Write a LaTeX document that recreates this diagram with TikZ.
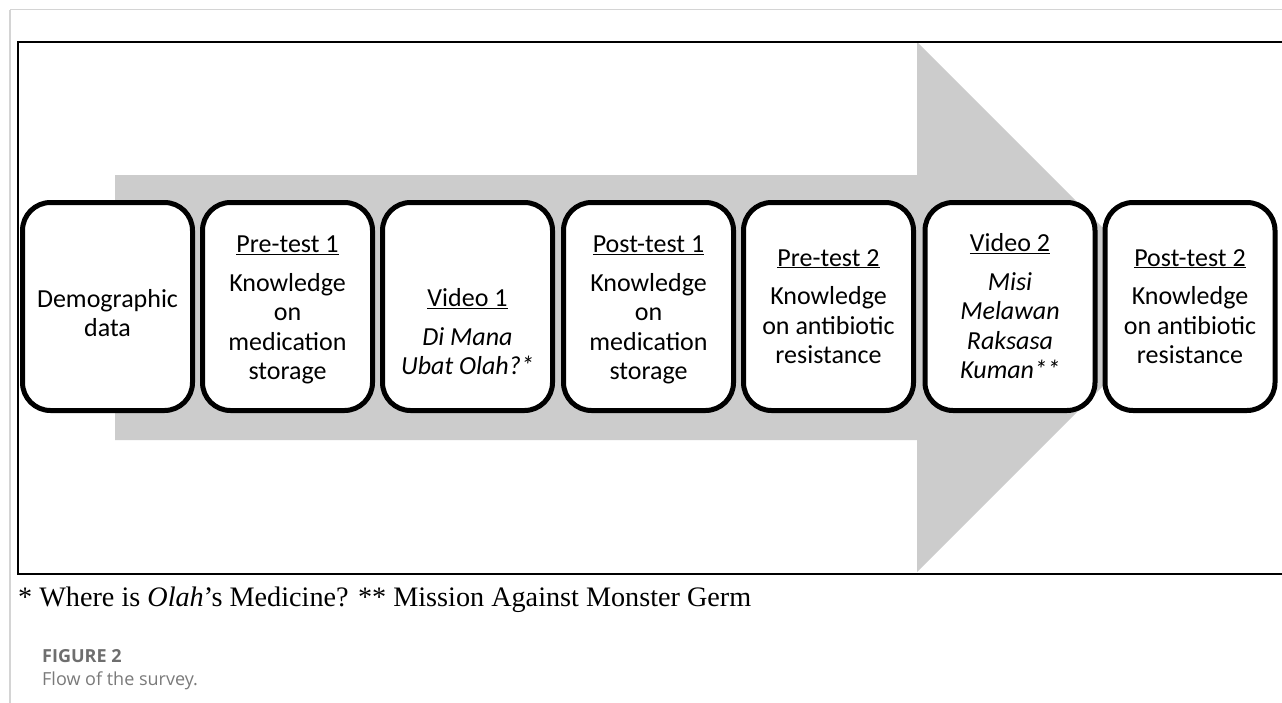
\documentclass[tikz,border=0pt]{standalone}
\usepackage{fontspec}
\setmainfont{Carlito}
\newfontfamily\calib{Carlito}
\newfontfamily\tnr{Liberation Serif}
\newfontfamily\capf{Open Sans}
\definecolor{arrowgray}{HTML}{CCCCCC}
\definecolor{pagegray}{HTML}{D4D4D4}
\definecolor{figgray}{HTML}{6E6E6E}
\definecolor{flowgray}{HTML}{7A7A7A}
\tikzset{
  stage/.style={draw=black, fill=white, line width=5pt, rounded corners=28pt,
    minimum width=170pt, minimum height=208pt, inner sep=0pt, align=center,
    font=\calib\fontsize{26}{29.5}\selectfont},
  pageline/.style={draw=pagegray, line width=1.5pt},
  frameline/.style={draw=black, line width=2.5pt}
}
\newcommand{\hd}[1]{\underline{#1}\\[9pt]}
\begin{document}
\begin{tikzpicture}[x=1pt,y=-1pt]
\clip (0,0) rectangle (1282,702);
\fill[white] (0,0) rectangle (1282,702);
% page lines
\draw[pageline] (10,9.5) -- (1290,9.5);
\draw[pageline] (10,9.5) -- (10,710);
% arrow
\fill[arrowgray] (115,175) -- (917,175) -- (917,42) -- (1182,307) -- (917,572) -- (917,440) -- (115,440) -- cycle;
% frame
\draw[frameline] (1295,42) -- (18,42) -- (18,574) -- (1295,574);
% stages
\node[stage] (s1) at (107.5,306.5) {\mbox{}\\[2pt]Demographic\\data};
\node[stage] (s2) at (287.5,306.5) {\mbox{}\\[-6pt]\hd{Pre-test 1}Knowledge\\on\\medication\\storage};
\node[stage] (s3) at (467.5,306.5) {\mbox{}\\[39pt]\hd{Video 1}\itshape Di Mana\\\itshape Ubat Olah?*};
\node[stage] (s4) at (648.5,306.5) {\mbox{}\\[-6pt]\hd{Post-test 1}Knowledge\\on\\medication\\storage};
\node[stage] (s5) at (828.5,306.5) {\hd{Pre-test 2}Knowledge\\on antibiotic\\resistance};
\node[stage] (s6) at (1010,306.5) {\hd{Video 2}\itshape Misi\\\itshape Melawan\\\itshape Raksasa\\\itshape Kuman**};
\node[stage] (s7) at (1190,306.5) {\hd{Post-test 2}Knowledge\\on antibiotic\\resistance};
% footnote and caption
\node[anchor=base west, inner sep=0pt, font=\tnr\fontsize{28.2}{32}\selectfont] (note) at (18,606) {* Where is \textit{Olah}’s Medicine? ** Mission Against Monster Germ};
\node[anchor=base west, inner sep=0pt, text=figgray, font=\capf\bfseries\fontsize{18}{20}\selectfont] (fig) at (42,662) {FIGURE 2};
\node[anchor=base west, inner sep=0pt, text=flowgray, font=\capf\fontsize{18}{20}\selectfont] (flow) at (42,685) {Flow of the survey.};
\end{tikzpicture}
\end{document}
